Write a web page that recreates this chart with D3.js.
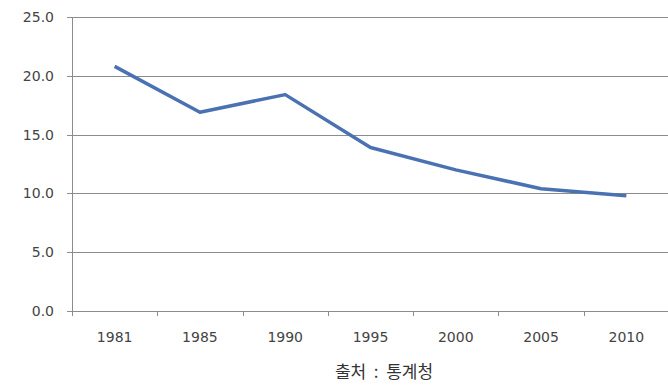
<!DOCTYPE html>
<html>
<head>
<meta charset="utf-8">
<script src="https://cdn.jsdelivr.net/npm/d3@7"></script>
<style>
  body { margin: 0; background: #fff; }
  svg { display: block; }
</style>
</head>
<body>
<svg id="chart" width="668" height="385"></svg>
<script>
// 연도별 값 (출처: 통계청)
const years = ["1981", "1985", "1990", "1995", "2000", "2005", "2010"];
const values = [20.8, 16.9, 18.4, 13.9, 12.0, 10.4, 9.8];
const yTicks = [0, 5, 10, 15, 20, 25];

const svg = d3.select("#chart");
const margin = { top: 17, right: -1, bottom: 74, left: 72 };
const width = 668 - margin.right;
const height = 385 - margin.bottom;

// x: one band per year
let x = d3.scaleBand()
    .domain(years)
    .range([margin.left, width]);

let y = d3.scaleLinear()
    .domain([0, 25])
    .range([height, margin.top]);

// gridlines
svg.append("g")
    .selectAll("line")
    .data(yTicks)
    .enter()
    .append("line")
    .attr("x1", margin.left - 5)
    .attr("x2", width)
    .attr("y1", d => Math.round(y(d)) + 0.5)
    .attr("y2", d => Math.round(y(d)) + 0.5)
    .attr("stroke", "#8c8c8c")
    .attr("stroke-width", 1);

// y axis line
svg.append("line")
    .attr("x1", margin.left + 0.5)
    .attr("x2", margin.left + 0.5)
    .attr("y1", y(25))
    .attr("y2", y(0))
    .attr("stroke", "#8c8c8c");

// y labels
svg.append("g")
    .selectAll("text")
    .data(yTicks)
    .enter()
    .append("text")
    .attr("x", 54)
    .attr("y", d => y(d))
    .attr("dy", "0.35em")
    .attr("text-anchor", "end")
    .attr("font-family", "DejaVu Sans, sans-serif")
    .attr("font-size", 14)
    .attr("fill", "#444")
    .text(d => d.toFixed(1));

// x ticks at band edges
let edges = years.map(d => x(d)).concat([x(years[years.length - 1]) + x.bandwidth()]);
svg.append("g")
    .selectAll("line")
    .data(edges)
    .enter()
    .append("line")
    .attr("x1", d => Math.round(d) + 0.5)
    .attr("x2", d => Math.round(d) + 0.5)
    .attr("y1", y(0))
    .attr("y2", y(0) + 5)
    .attr("stroke", "#8c8c8c");

// x labels
svg.append("g")
    .selectAll("text")
    .data(years)
    .enter()
    .append("text")
    .attr("x", d => x(d) + x.bandwidth() / 2)
    .attr("y", 337)
    .attr("dy", "0.35em")
    .attr("text-anchor", "middle")
    .attr("font-family", "DejaVu Sans, sans-serif")
    .attr("font-size", 14)
    .attr("fill", "#444")
    .text(d => d);

// the series line
let line = d3.line()
    .x((d, i) => x(years[i]) + x.bandwidth() / 2)
    .y(d => y(d));

svg.append("path")
    .datum(values)
    .attr("d", line)
    .attr("fill", "none")
    .attr("stroke", "#4a72b2")
    .attr("stroke-width", 3.5)
    .attr("stroke-linejoin", "round");

// source caption
svg.append("text")
    .attr("x", 384)
    .attr("y", 372)
    .attr("dy", "0.35em")
    .attr("text-anchor", "middle")
    .attr("font-family", "Noto Sans CJK KR, sans-serif")
    .attr("font-size", 17)
    .attr("fill", "#333")
    .style("white-space", "pre")
    .text("출처  :  통계청");
</script>
</body>
</html>
